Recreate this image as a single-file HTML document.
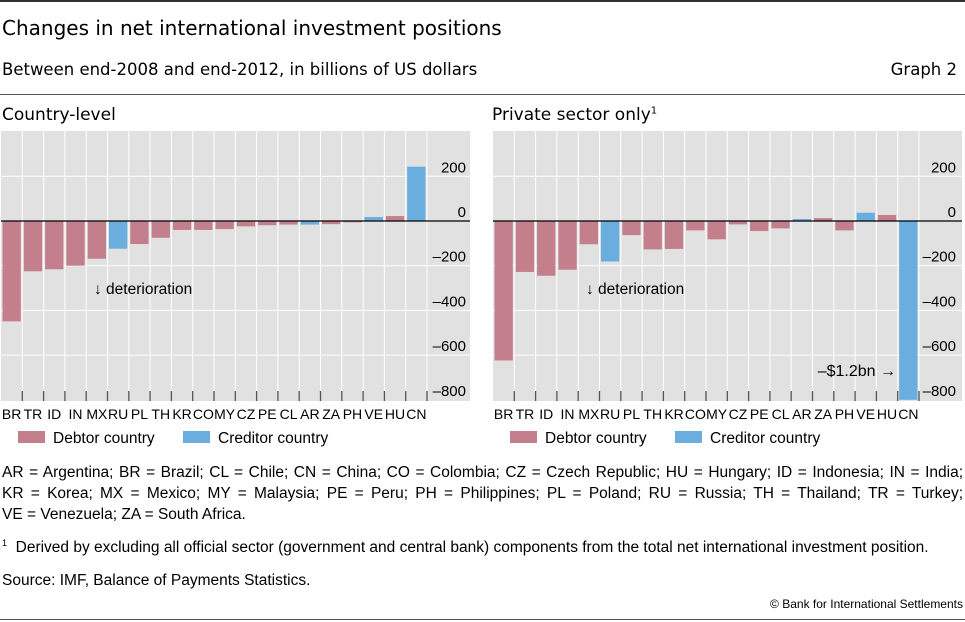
<!DOCTYPE html>
<html><head><meta charset="utf-8"><style>
body{margin:0;width:965px;height:622px;background:#fff;position:relative;overflow:hidden;font-family:"DejaVu Sans","Liberation Sans",sans-serif;color:#000}
.t{position:absolute;white-space:nowrap}
.j{position:absolute;left:2px;width:961px;font-size:15.5px;text-align:justify;text-align-last:justify;white-space:normal;font-family:"Liberation Sans",sans-serif;line-height:21px;height:21px}
.f{font-family:"Liberation Sans",sans-serif;font-size:15.5px}
svg{position:absolute;left:0;top:0}
</style></head><body>
<div style="position:absolute;left:0;top:0;width:965px;height:2px;background:#333"></div>
<div class="t" style="left:2px;top:16px;font-size:20px">Changes in net international investment positions</div>
<div class="t" style="left:2px;top:60px;font-size:16.5px">Between end-2008 and end-2012, in billions of US dollars</div>
<div class="t" style="right:8px;top:60px;font-size:16.5px">Graph 2</div>
<div style="position:absolute;left:0;top:94px;width:965px;height:1px;background:#555"></div>
<div class="t" style="left:2px;top:105px;font-size:17px">Country-level</div>
<div class="t" style="left:492px;top:105px;font-size:17px">Private sector only<sup style="font-size:10px">1</sup></div>
<svg id="chart" width="965" height="622"></svg>
<div class="j" style="top:462px">AR = Argentina; BR = Brazil; CL = Chile; CN = China; CO = Colombia; CZ = Czech Republic; HU = Hungary; ID = Indonesia; IN = India;</div>
<div class="j" style="top:483px">KR = Korea; MX = Mexico; MY = Malaysia; PE = Peru; PH = Philippines; PL = Poland; RU = Russia; TH = Thailand; TR = Turkey;</div>
<div class="t f" style="left:2px;top:504px;line-height:21px">VE = Venezuela; ZA = South Africa.</div>
<div class="t f" style="left:2px;top:538px"><sup style="font-size:9px">1</sup>&nbsp; Derived by excluding all official sector (government and central bank) components from the total net international investment position.</div>
<div class="t f" style="left:2px;top:572px">Source: IMF, Balance of Payments Statistics.</div>
<div class="t" style="right:2px;top:597px;font-size:12px;font-family:'Liberation Sans',sans-serif">© Bank for International Settlements</div>
<div style="position:absolute;left:0;top:619px;width:965px;height:1px;background:#555"></div>
<script>
const categories=["BR","TR","ID","IN","MX","RU","PL","TH","KR","CO","MY","CZ","PE","CL","AR","ZA","PH","VE","HU","CN"];
const countryValues=[-449,-225,-216,-200,-169,-124,-103,-75,-40,-40,-36,-24,-19,-16,-16,-14,-6,18,22,243];
const privateValues=[-624,-228,-245,-218,-104,-181,-63,-127,-125,-42,-82,-15,-45,-33,9,13,-42,37,27,-1200];
const creditor=["RU","AR","VE","CN"];
const yTicks=[200,0,-200,-400,-600,-800];
const yTickLabels=["200","0","–200","–400","–600","–800"];
const NS="http://www.w3.org/2000/svg";
const svg=document.getElementById('chart');
function mk(t,a){const e=document.createElementNS(NS,t);for(const k in a)e.setAttribute(k,a[k]);svg.appendChild(e);return e;}
function panel(x0,bgW,bandX,values,tag,labelX){
  const top=131,bottom=401,zeroY=221,k=44.7/200;
  const y=v=>zeroY-v*k;
  const bw=21.3;
  const bx=i=>bandX+i*bw;
  let e=mk('rect',{x:x0,y:top,width:bgW,height:bottom-top,fill:'#e1e1e1'});
  
  for(let i=1;i<=categories.length;i++){mk('line',{x1:bx(i),x2:bx(i),y1:top,y2:bottom,stroke:'#fff','stroke-width':1});}
  yTicks.forEach((t,i)=>{
    if(t!==0&&t!==-800)mk('line',{x1:x0,x2:x0+bgW,y1:y(t),y2:y(t),stroke:'#fff','stroke-width':1});
    const tx=mk('text',{x:labelX,y:y(t)-4,'text-anchor':'end','font-size':15,'font-family':'Liberation Sans, sans-serif'});
    tx.textContent=yTickLabels[i];
    
  });
  values.forEach((v,i)=>{
    const vv=Math.max(v,-800);
    const r=mk('rect',{x:bx(i)+1.5,width:bw-3,y:Math.min(y(0),y(vv)),height:Math.abs(y(vv)-y(0)),fill:creditor.includes(categories[i])?'#6aaee0':'#c47f8c'});
    
    const l=mk('text',{x:bx(i)+bw/2,y:419,'text-anchor':'middle','font-size':14,'font-family':'Liberation Sans, sans-serif'});
    l.textContent=categories[i];
    
  });
  for(let i=1;i<=categories.length;i++){mk('line',{x1:bx(i),x2:bx(i),y1:391,y2:401,stroke:'#555','stroke-width':1.3});}
  mk('line',{x1:x0,x2:x0+bgW,y1:zeroY,y2:zeroY,stroke:'#000','stroke-width':1.3});
  const d=mk('text',{x:bandX+93,y:294,'font-size':15.5,'font-family':'Liberation Sans, sans-serif'});
  d.textContent='↓ deterioration';
  
  const lg=[[0,'#c47f8c','Debtor country'],[165,'#6aaee0','Creditor country']];
  lg.forEach(g=>{
    const s=mk('rect',{x:x0+17+g[0],y:431,width:27,height:12,fill:g[1]});
    
    const t=mk('text',{x:x0+52+g[0],y:443,'font-size':15.5,'font-family':'Liberation Sans, sans-serif'});
    t.textContent=g[2];
    
  });
}
panel(1,469,1,countryValues,'country-level',466);
panel(493,469,493,privateValues,'private-sector',956);
const n=mk('text',{x:896,y:376,'text-anchor':'end','font-size':16,'font-family':'Liberation Sans, sans-serif'});
n.textContent='–$1.2bn →';

</script>
</body></html>
